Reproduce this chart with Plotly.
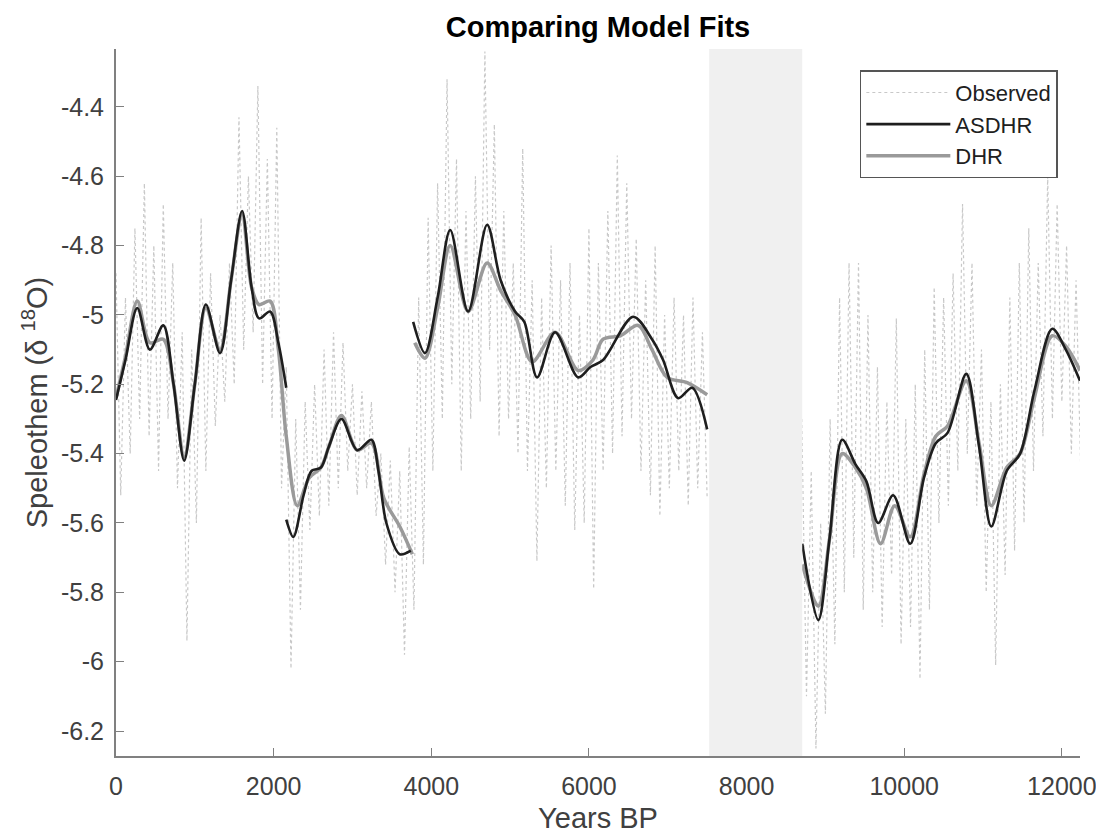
import plotly.graph_objects as go

# ---------------- data ----------------
# Observed record (Years BP, d18O), first section 0-7500, second 8700-12240
obs_years_a = [0, 60, 120, 180, 240, 300, 360, 420, 480, 540,
               600, 660, 720, 780, 840, 900, 960, 1020, 1080, 1140,
               1200, 1260, 1320, 1380, 1440, 1500, 1560, 1620, 1680, 1740,
               1800, 1860, 1920, 1980, 2040, 2100, 2160, 2220, 2280, 2340,
               2400, 2460, 2520, 2580, 2640, 2700, 2760, 2820, 2880, 2940,
               3000, 3060, 3120, 3180, 3240, 3300, 3360, 3420, 3480, 3540,
               3600, 3660, 3720, 3780, 3840, 3900, 3960, 4020, 4080, 4140,
               4200, 4260, 4320, 4380, 4440, 4500, 4560, 4620, 4680, 4740,
               4800, 4860, 4920, 4980, 5040, 5100, 5160, 5220, 5280, 5340,
               5400, 5460, 5520, 5580, 5640, 5700, 5760, 5820, 5880, 5940,
               6000, 6060, 6120, 6180, 6240, 6300, 6360, 6420, 6480, 6540,
               6600, 6660, 6720, 6780, 6840, 6900, 6960, 7020, 7080, 7140,
               7200, 7260, 7320, 7380, 7440, 7500]
obs_vals_a = [-4.88, -5.52, -4.95, -5.40, -4.75, -5.30, -4.62, -5.35, -4.80, -5.45,
              -4.68, -5.30, -4.85, -5.50, -5.05, -5.94, -5.10, -5.60, -4.72, -5.45,
              -4.88, -5.32, -5.00, -5.25, -4.85, -5.20, -4.43, -5.10, -4.60, -5.05,
              -4.34, -5.20, -4.55, -5.30, -4.46, -5.50, -5.15, -6.02, -5.30, -5.85,
              -5.25, -5.62, -5.20, -5.58, -5.10, -5.55, -5.05, -5.50, -5.08, -5.45,
              -5.20, -5.52, -5.22, -5.50, -5.25, -5.58, -5.40, -5.72, -5.42, -5.80,
              -5.45, -5.98, -5.38, -5.85, -4.95, -5.72, -4.72, -5.45, -4.62, -5.30,
              -4.32, -5.20, -4.55, -5.45, -4.70, -5.30, -4.60, -5.25, -4.24, -5.10,
              -4.45, -5.35, -4.70, -5.30, -4.85, -5.40, -4.52, -5.45, -4.90, -5.71,
              -4.95, -5.50, -4.80, -5.45, -4.90, -5.55, -4.85, -5.62, -5.00, -5.60,
              -4.75, -5.79, -4.85, -5.45, -4.70, -5.40, -4.54, -5.35, -4.62, -5.30,
              -4.78, -5.45, -4.90, -5.52, -4.80, -5.58, -5.00, -5.50, -4.95, -5.45,
              -5.00, -5.55, -4.95, -5.50, -5.05, -5.53]
obs_years_b = [8700, 8760, 8820, 8880, 8940, 9000, 9060, 9120, 9180, 9240,
               9300, 9360, 9420, 9480, 9540, 9600, 9660, 9720, 9780, 9840,
               9900, 9960, 10020, 10080, 10140, 10200, 10260, 10320, 10380, 10440,
               10500, 10560, 10620, 10680, 10740, 10800, 10860, 10920, 10980, 11040,
               11100, 11160, 11220, 11280, 11340, 11400, 11460, 11520, 11580, 11640,
               11700, 11760, 11820, 11880, 11940, 12000, 12060, 12120, 12180, 12240]
obs_vals_b = [-5.30, -6.10, -5.45, -6.25, -5.60, -6.15, -5.30, -5.95, -4.95, -5.80,
              -4.85, -5.70, -4.85, -5.85, -5.00, -5.80, -5.15, -5.90, -5.25, -5.75,
              -5.01, -5.95, -5.30, -5.90, -5.20, -6.05, -5.10, -5.85, -4.92, -5.60,
              -4.95, -5.55, -4.88, -5.45, -4.68, -5.40, -4.85, -5.55, -5.10, -5.80,
              -5.25, -6.01, -5.20, -5.75, -4.95, -5.68, -4.85, -5.60, -4.75, -5.45,
              -4.85, -5.35, -4.60, -5.30, -4.68, -5.25, -4.80, -5.40, -4.90, -5.45]

# ASDHR fit (segments separated by None)
asdhr_years = [0, 120, 270, 430, 600, 730, 865, 1000, 1140, 1320, 1460, 1600, 1720, 1815, 1955, 2060, 2160,
               None,
               2160, 2250, 2380, 2480, 2600, 2700, 2860, 3060, 3240, 3330, 3430, 3600, 3740,
               None,
               3770, 3920, 4080, 4240, 4467, 4708, 4880, 5063, 5180, 5342, 5571, 5863, 6020, 6180,
               6561, 6800, 6941, 7132, 7310, 7500,
               None,
               8706, 8910, 9050, 9213, 9380, 9520, 9670, 9860, 10076, 10250, 10400, 10550, 10787,
               10950, 11104, 11300, 11470, 11650, 11878, 12050, 12230]
asdhr_vals = [-5.245, -5.13, -4.98, -5.10, -5.03, -5.20, -5.42, -5.20, -4.97, -5.11, -4.90, -4.70, -4.92, -5.01, -4.99, -5.08, -5.21,
              None,
              -5.59, -5.64, -5.52, -5.45, -5.44, -5.38, -5.30, -5.39, -5.36, -5.45, -5.60, -5.69, -5.68,
              None,
              -5.02, -5.11, -4.95, -4.755, -4.99, -4.74, -4.90, -4.99, -5.02, -5.18, -5.05, -5.18, -5.15, -5.13,
              -5.005, -5.07, -5.13, -5.24, -5.21, -5.33,
              None,
              -5.66, -5.88, -5.65, -5.36, -5.43, -5.48, -5.60, -5.52, -5.66, -5.47, -5.37, -5.34, -5.17,
              -5.38, -5.61, -5.45, -5.40, -5.22, -5.04, -5.10, -5.19]

# DHR fit
dhr_years = [0, 120, 270, 430, 600, 730, 865, 1000, 1140, 1320, 1460, 1600, 1720, 1815, 1955, 2060, 2160,
             2300, 2450, 2600, 2700, 2860, 3060, 3240, 3400, 3600, 3760,
             None,
             3790, 3920, 4080, 4240, 4467, 4708, 4880, 5063, 5279, 5571, 5863, 6050, 6180, 6400,
             6624, 6800, 6992, 7246, 7500,
             None,
             8706, 8910, 9050, 9213, 9380, 9520, 9700, 9880, 10076, 10250, 10400, 10550, 10787,
             10950, 11104, 11300, 11470, 11650, 11878, 12050, 12230]
dhr_vals = [-5.24, -5.12, -4.96, -5.08, -5.07, -5.20, -5.41, -5.20, -4.98, -5.10, -4.90, -4.71, -4.92, -4.97, -4.96, -5.10, -5.35,
            -5.55, -5.47, -5.44, -5.38, -5.29, -5.39, -5.37, -5.53, -5.61, -5.69,
            None,
            -5.08, -5.125, -4.98, -4.80, -4.99, -4.85, -4.93, -5.00, -5.135, -5.05, -5.16, -5.13, -5.07, -5.06,
            -5.03, -5.10, -5.18, -5.195, -5.23,
            None,
            -5.72, -5.84, -5.65, -5.40, -5.44, -5.50, -5.66, -5.55, -5.64, -5.46, -5.35, -5.32, -5.19,
            -5.37, -5.55, -5.44, -5.40, -5.24, -5.06, -5.09, -5.16]

gap_start, gap_end = 7525, 8706
x_ticks = [0, 2000, 4000, 6000, 8000, 10000, 12000]
x_tick_text = ["0", "2000", "4000", "6000", "8000", "10000", "12000"]
y_ticks = [-6.2, -6.0, -5.8, -5.6, -5.4, -5.2, -5.0, -4.8, -4.6, -4.4]
y_tick_text = ["-6.2", "-6", "-5.8", "-5.6", "-5.4", "-5.2", "-5", "-4.8", "-4.6", "-4.4"]

# ---------------- figure ----------------
FONT = "Liberation Sans, Arial, Helvetica, sans-serif"
AXC = "#808080"
TXT = "#404040"
W, H = 1096, 829   # page body has an 8px margin

fig = go.Figure()
fig.add_trace(go.Scatter(
    x=obs_years_a + [None] + obs_years_b, y=obs_vals_a + [None] + obs_vals_b,
    mode="lines", name="Observed", connectgaps=False, legendgroup="o",
    line=dict(color="#c8c8c8", width=1.2, dash="dot"), legendrank=1))
fig.add_trace(go.Scatter(
    x=dhr_years, y=dhr_vals, mode="lines", name="DHR", connectgaps=False, legendgroup="d",
    line=dict(color="#9a9a9a", width=3.5, shape="spline", smoothing=0.9), legendrank=3))
fig.add_trace(go.Scatter(
    x=asdhr_years, y=asdhr_vals, mode="lines", name="ASDHR", connectgaps=False, legendgroup="a",
    line=dict(color="#1e1e1e", width=2.6, shape="spline", smoothing=0.9), legendrank=2))

fig.add_shape(type="rect", xref="x", yref="paper", x0=gap_start, x1=gap_end, y0=0, y1=1,
              fillcolor="#f0f0f0", line=dict(width=0), layer="above")

fig.update_layout(
    width=W, height=H,
    margin=dict(l=108, r=24, t=41, b=81),
    paper_bgcolor="white", plot_bgcolor="white",
    font=dict(family=FONT, size=25, color=TXT),
    title=dict(text="<b>Comparing Model Fits</b>", x=590/W, xanchor="center",
               y=1 - 19/H, yanchor="middle", font=dict(size=29, color="black", family=FONT)),
    showlegend=True,
    legend=dict(x=0.977, xanchor="right", y=0.970, yanchor="top",
                bgcolor="white", bordercolor="#555555", borderwidth=1.5,
                font=dict(size=22, color="#202020", family=FONT),
                itemwidth=84, tracegroupgap=0),
)
fig.update_xaxes(range=[0, 12230], tickvals=x_ticks, ticktext=x_tick_text,
                 ticks="inside", ticklen=8, tickcolor=AXC, ticklabelstandoff=7,
                 showline=True, linecolor=AXC, linewidth=2, showgrid=False, zeroline=False,
                 automargin=False, tickfont=dict(size=25, color=TXT),
                 title=dict(text="Years BP", font=dict(size=29, color=TXT), standoff=9))
fig.update_yaxes(range=[-6.272, -4.233], tickvals=y_ticks, ticktext=y_tick_text,
                 ticks="inside", ticklen=8, tickcolor=AXC, ticklabelstandoff=5,
                 showline=True, linecolor=AXC, linewidth=2, showgrid=False, zeroline=False,
                 automargin=False, tickfont=dict(size=25, color=TXT),
                 title=dict(text="Speleothem (\u03b4 <sup>18</sup>O)", font=dict(size=29, color=TXT), standoff=5))

fig.write_html("out.html")
